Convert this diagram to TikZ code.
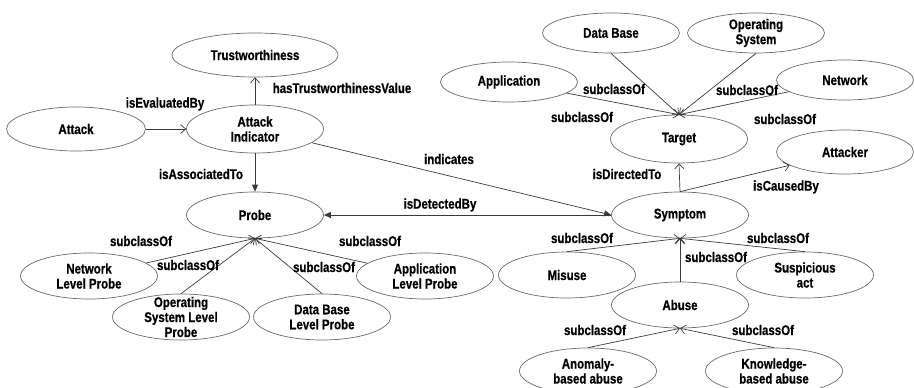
\documentclass[tikz,border=0pt]{standalone}
\usepackage{fontspec}
\setmainfont{Liberation Sans}[FakeStretch=0.82, FakeBold=0.6]
\usetikzlibrary{shapes.geometric,arrows.meta}

\definecolor{ellipsegray}{HTML}{6A6A6A}
\definecolor{linegray}{HTML}{3A3A3A}
\newcommand\conceptfont{\bfseries\fontsize{14}{15}\selectfont}

\tikzset{
  concept/.style={ellipse, draw=ellipsegray, line width=0.7pt,
    minimum width=137pt, minimum height=44pt, inner sep=0pt},
  ctext/.style={align=center, font=\conceptfont, inner sep=0pt},
  rel/.style={font=\conceptfont, inner sep=0pt},
  sub/.style={draw=linegray, line width=0.7pt,
    -{Straight Barb[length=5pt,width=9pt]}},
  link/.style={draw=linegray, line width=0.7pt,
    -{Triangle[length=7pt,width=6pt]}},
}

\begin{document}
\begin{tikzpicture}[x=1pt, y=-1pt]
\useasboundingbox (0,0) rectangle (914,388);

% concepts: ellipse outline plus centred caption
\node[concept, minimum width=166pt] (trust) at (255,55) {};
\node[ctext] (trust-t) at (trust) {Trustworthiness};
\node[concept, minimum width=139pt] (attack) at (76,129) {};
\node[ctext] (attack-t) at (attack) {Attack};
\node[concept, minimum height=48pt] (ai) at (255,129) {};
\node[ctext] (ai-t) at (ai) {Attack\\Indicator};
\node[concept, minimum height=46pt] (probe) at (255,215) {};
\node[ctext] (probe-t) at (probe) {Probe};
\node[concept, minimum height=46pt] (nlp) at (89,276) {};
\node[ctext] (nlp-t) at (nlp) {Network\\Level Probe};
\node[concept, minimum height=46pt] (osp) at (181,317) {};
\node[ctext] (osp-t) at (osp) {Operating\\System Level\\Probe};
\node[concept, minimum height=46pt] (dbp) at (322,317) {};
\node[ctext] (dbp-t) at (dbp) {Data Base\\Level Probe};
\node[concept, minimum height=46pt] (alp) at (425,276) {};
\node[ctext] (alp-t) at (alp) {Application\\Level Probe};

\node[concept, minimum height=40pt] (db) at (611,33) {};
\node[ctext] (db-t) at (db) {Data Base};
\node[concept, minimum height=40pt] (os) at (756,33) {};
\node[ctext] (os-t) at (os) {Operating\\System};
\node[concept, minimum height=40pt] (app) at (509,82) {};
\node[ctext] (app-t) at (app) {Application};
\node[concept, minimum height=40pt] (net) at (845,80) {};
\node[ctext] (net-t) at (net) {Network};
\node[concept, minimum height=48pt] (target) at (679,139) {};
\node[ctext] (target-t) at (target) {Target};
\node[concept] (attacker) at (845,152) {};
\node[ctext] (attacker-t) at (attacker) {Attacker};

\node[concept, minimum height=46pt] (symptom) at (680,215) {};
\node[ctext] (symptom-t) at (symptom) {Symptom};
\node[concept, minimum height=46pt] (misuse) at (567,275) {};
\node[ctext] (misuse-t) at (misuse) {Misuse};
\node[concept, minimum height=46pt] (susp) at (805,275) {};
\node[ctext] (susp-t) at (susp) {Suspicious\\act};
\node[concept, minimum height=46pt] (abuse) at (680,305) {};
\node[ctext] (abuse-t) at (abuse) {Abuse};
\node[concept, minimum height=46pt] (anomaly) at (588,371) {};
\node[ctext] (anomaly-t) at (anomaly) {Anomaly-\\based abuse};
\node[concept, minimum height=46pt] (knowledge) at (774,371) {};
\node[ctext] (knowledge-t) at (knowledge) {Knowledge-\\based abuse};

% relations around the attack indicator
\draw[sub] (attack) -- (ai);
\draw[sub] (ai) -- (trust);
\draw[link] (ai) -- (probe);
\draw[link] (ai) -- (symptom.west);
\draw[link] (symptom.west) -- (probe.east);

% probe hierarchy
\draw[sub] (nlp) -- (probe.south);
\draw[sub] (osp.north) -- (probe.south);
\draw[sub] (dbp.north) -- (probe.south);
\draw[sub] (alp) -- (probe.south);

% target hierarchy
\draw[sub] (db.south) -- (target.north);
\draw[sub] (os.south) -- (target.north);
\draw[sub] (app) -- (target.north);
\draw[sub] (net) -- (target.north);

% symptom relations
\draw[sub] (symptom.north) -- (target.south);
\draw[sub] (symptom.north) -- (attacker);
\draw[sub] (misuse.north) -- (symptom.south);
\draw[sub] (susp.north) -- (symptom.south);
\draw[sub] (abuse.north) -- (symptom.south);
\draw[sub] (anomaly.north) -- (abuse.south);
\draw[sub] (knowledge.north) -- (abuse.south);

% relation names
\node[rel] (l-eval) at (165,104) {isEvaluatedBy};
\node[rel] (l-trust) at (342,88) {hasTrustworthinessValue};
\node[rel] (l-assoc) at (201,174) {isAssociatedTo};
\node[rel] (l-ind) at (449,159) {indicates};
\node[rel] (l-det) at (440,205) {isDetectedBy};
\node[rel] (l-p1) at (141,241) {subclassOf};
\node[rel] (l-p2) at (188,265) {subclassOf};
\node[rel] (l-p3) at (324,267) {subclassOf};
\node[rel] (l-p4) at (370,241) {subclassOf};
\node[rel] (l-t1) at (614,89) {subclassOf};
\node[rel] (l-t2) at (582,117) {subclassOf};
\node[rel] (l-t3) at (747,90) {subclassOf};
\node[rel] (l-t4) at (785,119) {subclassOf};
\node[rel] (l-dir) at (627,174) {isDirectedTo};
\node[rel] (l-cause) at (786,187) {isCausedBy};
\node[rel] (l-s1) at (582,238) {subclassOf};
\node[rel] (l-s2) at (716,257) {subclassOf};
\node[rel] (l-s3) at (778,238) {subclassOf};
\node[rel] (l-a1) at (595,330) {subclassOf};
\node[rel] (l-a2) at (763,330) {subclassOf};
\end{tikzpicture}
\end{document}
